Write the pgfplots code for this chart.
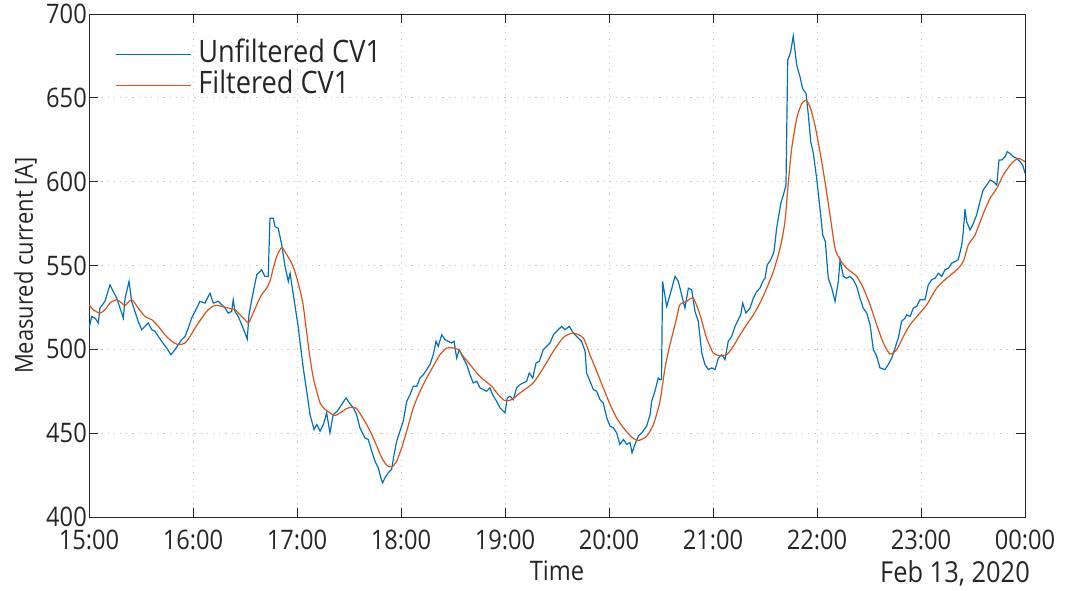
\documentclass[border=0pt]{standalone}
\usepackage{fontspec}
\setmainfont{Open Sans}[FakeStretch=0.88]
\usepackage{pgfplots}
\usepackage{pgfplotstable}
\pgfplotsset{compat=1.18}
\usetikzlibrary{calc}

\definecolor{cvblue}{RGB}{0,114,189}
\definecolor{cvorange}{RGB}{217,83,25}
\definecolor{axgray}{RGB}{38,38,38}

% t: minutes after 15:00, I: measured current [A]
\pgfplotstableread{
t I
0 512.7
1.6 519.6
3.5 518.6
5.4 515.7
6.3 524.6
9.2 528.6
12.1 538.5
14.0 534.5
16.0 530.5
17.9 524.6
19.8 518.6
20.8 530.5
23.1 540.5
24.6 528.6
26.5 522.6
28.4 516.7
30.4 511.7
32.3 513.7
34.2 515.7
36.2 511.7
38.1 510.7
40.0 507.7
41.9 504.8
44.8 500.8
47.3 496.8
49.6 499.8
51.5 502.8
53.5 505.8
55.4 507.7
57.3 512.7
59.2 518.6
61.2 522.6
64.0 528.6
66.9 527.6
69.8 533.5
71.7 527.6
74.6 528.6
76.6 526.6
78.5 524.6
80.4 521.6
82.3 522.6
83.2 529.6
84.2 522.6
86.1 519.6
88.1 514.7
90.0 509.7
91.3 506.1
92.3 520.6
93.9 529.6
96.8 544.5
99.6 547.4
101.5 543.5
103.4 543.5
104.4 578.2
106.3 578.2
107.3 573.2
109.2 572.2
111.2 562.3
113.1 549.4
115.0 540.5
116.0 545.4
117.9 532.5
120.8 512.7
121.7 504.8
123.6 488.9
125.6 475.0
127.5 461.1
129.8 452.2
131.4 455.1
133.3 451.2
135.2 455.1
137.1 462.1
139.0 450.2
140.9 461.1
143.3 463.1
145.8 467.1
148.3 471.0
150.2 468.0
152.5 465.1
154.4 461.1
156.3 453.2
159.2 447.2
161.1 446.2
163.1 439.3
165.0 433.3
166.9 429.3
168.3 423.5
169.4 420.4
170.8 423.5
172.7 426.4
174.6 428.4
176.0 437.3
177.5 445.2
179.4 451.2
181.3 457.1
183.3 469.0
185.2 473.0
187.1 478.0
189.1 478.0
191.0 482.9
192.9 484.9
194.8 487.9
196.7 490.9
198.6 496.8
200.2 504.8
201.5 501.8
203.5 508.7
205.4 505.8
207.3 504.8
209.2 503.8
210.6 504.8
212.1 494.8
213.6 499.8
215.9 494.8
217.9 490.9
219.8 484.9
221.7 479.9
223.7 481.0
225.6 477.0
227.5 476.0
229.4 475.0
231.3 477.0
233.3 472.0
235.2 469.0
237.1 465.1
240.0 462.1
241.3 471.0
242.9 472.0
244.8 470.0
246.7 477.0
248.7 479.0
250.6 480.0
252.5 481.0
254.0 485.9
256.0 482.9
257.9 491.8
259.8 492.9
262.1 499.8
264.0 501.8
266.0 503.8
267.9 508.7
269.8 510.7
272.7 513.7
274.6 511.7
277.1 513.7
279.4 509.7
282.3 506.7
284.2 504.8
286.2 498.8
287.1 485.9
289.0 481.0
291.0 476.0
292.9 475.0
294.8 470.0
296.7 468.0
298.7 459.1
300.6 454.2
302.5 453.2
304.4 450.2
306.3 443.3
308.3 446.2
310.2 443.3
312.1 444.4
313.3 438.3
315.0 443.3
316.9 448.2
318.9 450.2
321.7 454.2
323.7 461.1
324.6 469.0
326.5 475.0
328.4 482.9
329.4 481.9
330.3 482.0
330.9 540.5
333.3 525.6
335.2 532.5
338.1 543.5
340.0 540.5
341.9 532.5
343.8 524.6
345.8 536.5
347.7 535.5
349.6 522.6
351.5 516.7
353.5 497.8
355.4 490.9
357.3 487.9
359.2 488.9
361.2 487.9
363.1 494.8
365.0 496.8
366.9 493.9
368.8 504.8
370.8 507.7
372.7 513.7
374.6 517.7
376.0 520.6
377.1 527.6
379.0 521.6
381.3 524.6
383.3 530.5
385.2 534.5
387.1 536.5
388.7 540.5
390.0 542.4
391.3 550.4
393.3 553.4
395.2 558.3
396.7 572.2
399.1 587.1
400.6 592.1
402.1 598.0
403.1 672.4
404.8 677.4
406.3 686.9
408.3 669.5
410.2 662.5
411.7 655.5
413.7 652.6
415.0 639.7
416.4 623.8
417.9 616.8
419.8 602.0
421.7 584.1
423.3 568.3
424.8 564.3
426.5 542.4
428.5 536.5
430.4 528.6
432.3 540.5
433.3 553.4
435.2 543.5
437.1 542.4
439.0 543.5
440.9 541.5
442.9 537.5
444.8 530.5
446.7 524.6
448.7 521.6
450.6 514.7
452.5 499.8
454.4 496.0
456.3 489.0
459.2 487.9
461.1 490.9
463.1 494.8
465.0 500.8
466.9 506.7
468.8 516.7
470.8 518.6
471.7 520.6
473.7 519.6
475.6 524.6
477.5 525.6
479.4 529.6
482.3 529.6
484.2 538.5
486.2 541.5
488.1 542.4
490.0 545.4
491.9 543.5
493.8 547.4
495.8 548.4
497.7 551.4
499.6 552.4
501.5 553.4
503.5 562.3
504.4 570.2
505.4 583.7
506.3 576.2
508.3 571.2
510.2 575.2
512.1 580.2
514.0 588.1
515.9 595.1
517.9 598.0
519.8 601.0
521.7 600.0
523.7 598.0
525.0 612.9
526.5 612.9
528.5 614.9
529.8 617.9
531.3 616.8
533.3 614.9
535.2 613.9
537.1 611.9
538.7 609.9
540.0 605.0
}\rawdata

\pgfplotstableread{
t I
0 526.6
2.5 523.6
6.3 521.6
9.2 523.6
12.1 527.6
16.0 529.6
18.9 527.6
20.8 526.2
24.6 529.6
28.4 524.6
32.3 519.6
36.2 517.7
40.0 513.7
43.8 508.7
47.7 504.8
51.5 502.8
55.4 503.8
58.3 507.7
61.2 512.7
65.0 518.6
68.8 523.6
72.7 526.2
76.6 525.6
80.4 524.6
84.2 523.6
87.1 520.6
90.0 517.7
91.9 515.7
93.9 519.6
96.8 526.6
99.6 532.5
102.5 536.5
104.4 540.5
106.3 548.4
108.3 555.4
111.2 560.7
114.1 556.4
116.9 551.4
118.8 546.4
121.7 535.5
123.6 526.0
125.6 510.0
127.5 495.0
129.4 483.0
131.4 475.0
133.3 468.0
136.2 464.1
139.0 462.1
141.9 460.5
144.8 462.1
148.7 464.7
151.6 465.5
154.4 464.7
157.3 460.1
160.2 455.1
163.1 449.2
166.0 442.3
168.9 435.3
171.7 431.0
174.6 429.8
177.5 433.3
180.4 441.3
183.3 451.2
187.1 465.1
191.0 475.0
194.8 482.9
198.6 489.9
202.5 496.8
206.4 500.8
210.2 500.8
213.1 499.8
215.9 495.8
219.8 490.9
223.7 485.9
227.5 482.0
232.3 478.0
236.1 473.0
240.0 469.4
243.9 470.0
248.7 474.0
256.3 480.0
262.1 488.9
267.9 498.8
273.7 507.1
279.4 509.7
285.2 506.7
289.0 496.8
292.9 486.9
296.7 477.0
300.6 467.1
304.4 459.1
308.3 453.2
313.1 447.6
316.9 445.6
321.7 448.2
325.6 455.1
329.4 469.0
332.3 488.9
335.2 502.8
339.0 518.6
340.9 526.6
344.8 528.6
348.6 530.5
352.5 520.6
356.3 506.7
360.2 497.8
364.0 496.2
367.9 496.8
371.7 501.8
375.6 508.7
379.4 514.7
383.3 520.6
387.1 527.6
391.0 536.5
394.8 546.4
398.7 560.3
401.5 576.2
403.5 600.0
405.4 619.8
408.3 637.7
411.2 646.6
413.7 648.6
416.0 644.6
418.8 633.7
421.7 617.9
424.6 600.0
427.5 580.2
430.4 560.3
433.3 553.4
437.1 548.4
442.9 543.5
446.7 536.5
450.6 526.6
454.4 514.7
458.3 503.8
462.1 497.2
466.0 499.8
469.8 507.7
473.7 514.7
478.5 520.6
483.3 526.6
489.0 536.5
494.8 542.4
500.6 547.4
504.4 552.4
507.3 562.3
511.2 568.3
516.0 581.1
519.8 590.0
523.7 596.0
527.5 604.0
532.3 611.0
536.2 613.9
540.0 611.9
}\filtdata

\begin{document}
\begin{tikzpicture}
\begin{axis}[
  name=ax,
  scale only axis,
  width=936bp, height=503bp,
  xmin=0, xmax=540, ymin=400, ymax=700,
  xtick={0,60,...,540},
  xticklabels={15:00,16:00,17:00,18:00,19:00,20:00,21:00,22:00,23:00,00:00},
  ytick={400,450,...,700},
  /pgf/number format/assume math mode=true,
  tick align=inside,
  major tick length=9bp,
  axis line style={draw=axgray, line width=0.75bp},
  every tick/.style={axgray, line width=0.75bp},
  tick label style={font=\fontsize{27}{32}\selectfont, text=axgray},
  yticklabel style={inner sep=0pt, xshift=-2bp},
  xticklabel style={inner sep=0pt, yshift=-12.5bp},
  grid=major,
  grid style={draw=gray!45, line width=0.8bp, dash pattern=on 1.2bp off 5bp},
  xlabel={Time},
  ylabel={Measured current [A]},
  xlabel style={at={(axis description cs:0.5,-0.0875)}, anchor=north,
                inner sep=0pt, font=\fontsize{27}{32}\selectfont, text=axgray},
  ylabel style={at={(axis description cs:-0.0556,0.5)}, anchor=south,
                inner sep=0pt, font=\fontsize{25}{30}\selectfont, text=axgray},
  legend cell align=left,
  legend image code/.code={\draw[#1] (0bp,0bp) -- (75bp,0bp);},
  legend style={draw=none, fill=none,
                at={(axis description cs:0.0278,0.946)}, anchor=north west,
                inner sep=0pt, row sep=5bp, column sep=7bp,
                font=\fontsize{31}{36}\selectfont, text=axgray,
                nodes={inner sep=0pt, text height=21bp, text depth=5bp}},
]
\addplot[cvblue, line width=1.2bp] table[x=t, y=I] {\rawdata};
\addlegendentry{Unfiltered CV1}
\addplot[cvorange, line width=1.2bp, smooth, tension=0.4] table[x=t, y=I] {\filtdata};
\addlegendentry{Filtered CV1}
\end{axis}
\node[anchor=north east, inner sep=0pt, font=\fontsize{29}{34}\selectfont, text=axgray]
  at ($(ax.south east)+(5bp,-43bp)$) {Feb 13, 2020};
\pgfresetboundingbox
\path[use as bounding box] ($(ax.south west)+(-89bp,-73bp)$) rectangle ($(ax.north east)+(50bp,14bp)$);
\end{tikzpicture}
\end{document}
